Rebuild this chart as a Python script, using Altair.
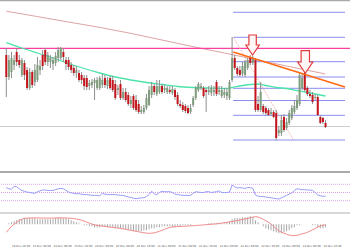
import altair as alt
import pandas as pd

# ---------------- candle data (levels read downward from the chart top) ----------------
OPEN = [55, 77, 72, 65, 52, 60, 75, 63, 70, 88,
        72, 82, 80, 70, 55, 50, 62, 62, 64, 63,
        58, 58, 52, 60, 60, 65, 68, 73, 73, 75,
        78, 78, 86, 85, 83, 88, 88, 85, 78, 86,
        78, 80, 84, 90, 84, 98, 92, 95, 104, 96,
        100, 104, 112, 112, 108, 105, 95, 86, 94, 92,
        86, 90, 92, 90, 93, 90, 95, 104, 105, 106,
        108, 112, 105, 98, 90, 88, 88, 90, 92, 93,
        92, 82, 92, 96, 95, 96, 98, 80, 58, 68,
        70, 74, 75, 68, 58, 63, 60, 104, 110, 106,
        108, 110, 114, 112, 113, 133, 133, 117, 128, 123,
        118, 112, 108, 104, 88, 73, 88, 94, 95, 98,
        97, 117, 118, 123]
CLOSE = [77, 60, 58, 60, 62, 65, 60, 75, 88, 72,
         85, 70, 65, 66, 66, 62, 55, 58, 60, 56,
         50, 48, 57, 64, 67, 70, 73, 70, 80, 80,
         86, 87, 83, 82, 80, 80, 78, 80, 85, 80,
         88, 90, 98, 88, 98, 92, 100, 104, 100, 108,
         110, 112, 110, 108, 98, 90, 86, 92, 86, 86,
         92, 88, 88, 92, 89, 97, 104, 106, 110, 111,
         113, 108, 98, 88, 84, 86, 96, 92, 90, 88,
         90, 94, 90, 90, 92, 92, 82, 58, 68, 74,
         75, 66, 62, 60, 63, 58, 110, 110, 92, 112,
         113, 115, 112, 117, 138, 130, 120, 130, 122, 113,
         108, 106, 100, 75, 78, 90, 94, 96, 102, 97,
         115, 123, 122, 127]
HIGH = [48, 55, 52, 55, 48, 55, 58, 60, 67, 68,
        70, 64, 57, 60, 50, 48, 52, 55, 57, 52,
        47, 47, 48, 57, 57, 62, 65, 66, 70, 72,
        75, 75, 80, 79, 78, 77, 76, 74, 75, 77,
        76, 76, 80, 85, 80, 88, 88, 92, 96, 94,
        95, 100, 106, 105, 94, 86, 82, 84, 80, 80,
        84, 85, 86, 86, 86, 88, 92, 100, 102, 104,
        105, 104, 96, 86, 82, 83, 86, 88, 86, 85,
        86, 80, 86, 86, 88, 88, 80, 37, 55, 66,
        66, 62, 60, 58, 55, 56, 58, 96, 82, 104,
        106, 108, 108, 110, 110, 126, 115, 114, 118, 110,
        105, 100, 95, 72, 74, 72, 86, 90, 92, 94,
        95, 115, 117, 120]
LOW = [97, 80, 78, 70, 66, 68, 77, 80, 90, 90,
       88, 86, 82, 75, 70, 65, 66, 68, 70, 66,
       62, 60, 62, 70, 70, 73, 76, 78, 82, 84,
       90, 90, 90, 88, 100, 90, 90, 88, 88, 89,
       90, 92, 100, 95, 100, 100, 102, 106, 108, 110,
       112, 114, 114, 114, 110, 106, 98, 95, 96, 94,
       94, 93, 94, 94, 95, 100, 106, 108, 112, 113,
       114, 114, 107, 100, 92, 90, 98, 112, 95, 96,
       96, 96, 95, 98, 98, 100, 100, 82, 70, 76,
       77, 76, 77, 70, 65, 65, 112, 112, 112, 114,
       115, 116, 116, 118, 140, 136, 136, 132, 130, 125,
       120, 114, 110, 106, 90, 92, 96, 98, 104, 100,
       116, 124, 124, 128]

# moving averages (sampled at candle indices)
MA_SLOW_IDX = [0, 12, 24, 36, 48, 60, 72, 84, 96, 108, 123]
MA_SLOW = [11.2, 16.6, 22, 27.4, 33.4, 40, 46.7, 53, 59.5, 66, 74]
MA_FAST_IDX = [0, 6, 12, 18, 24, 30, 36, 42, 48, 54, 60, 66, 72, 78, 84, 87,
               90, 94, 97, 100, 104, 108, 112, 116, 120, 123]
MA_FAST = [42.5, 48, 53, 58, 63.5, 68.5, 73, 77, 80, 82.5, 84.5, 86.5, 87.5, 88,
           88.5, 87.5, 86, 84.5, 84, 85.5, 87.5, 88.5, 90.5, 92.5, 94.5, 96]

# horizontal levels
RESIST_LEVEL = 48.3
CURRENT_LEVEL = 126.5
FIB_LEVELS = [12.3, 37.3, 61.7, 77, 88.3, 100.5, 115.3, 140]
FIB_X0 = 87.4
FIB_X1 = 130.5

# trend lines
TREND_IDX = [87.4, 130.5]
TREND_LVL = [52, 87]
FIBDIAG_IDX = [87.4, 110.6]
FIBDIAG_LVL = [37, 140]

# arrows
ARROW_IDX = [94.9, 115.2]
ARROW_LVL = [45, 62]

# RSI
RSI = [62, 59, 58, 65, 64, 59, 55, 53, 51, 50,
       49, 48, 52, 54, 56, 56, 55, 55, 55, 57,
       59, 60, 59, 55, 51, 49, 48, 47, 47, 46,
       45, 45, 44, 43, 43, 43, 42, 48, 46, 45,
       45, 45, 45, 44, 43, 43, 41, 39, 38, 36,
       35, 36, 37, 37, 40, 45, 53, 47, 45, 50,
       53, 52, 52, 52, 50, 46, 45, 44, 43, 43,
       43, 43, 48, 52, 51, 50, 50, 52, 52, 50,
       51, 52, 54, 50, 50, 50, 51, 68, 64, 61,
       62, 61, 60, 62, 62, 60, 44, 41, 40, 40,
       39, 38, 37, 36, 35, 34, 37, 40, 43, 46,
       49, 55, 59, 58, 57, 57, 56, 56, 55, 50,
       44, 42, 41, 41]
RSI_LEVELS = [70, 50, 30]

# MACD
MACD_HIST = [0, 1, 2, 3, 4, 5, 5, 6, 6, 6,
             6, 6, 5, 5, 5, 5, 5, 5, 5, 6,
             7, 7, 6, 6, 5, 4, 3, 2, 1, 0,
             -1, -1, -2, -2, -3, -3, -3, -2, -2, -3,
             -3, -3, -4, -4, -4, -5, -5, -6, -6, -7,
             -7, -7, -7, -6, -6, -5, -4, -4, -3, -3,
             -2, -2, -2, -2, -3, -3, -2, -2, -1, -1,
             -1, -1, 0, 0, 0, 0, 0, 0, 1, 1,
             1, 1, 1, 1, 1, 2, 3, 5, 6, 6,
             6, 7, 7, 7, 8, 7, 4, 2, 0, -2,
             -4, -5, -6, -7, -8, -9, -9, -8, -7, -6,
             -4, -3, -1, -1, 0, 0, 0, 0, -1, -1,
             -3, -4, -4, -3]
MACD_SIGNAL = [-8, -5, -2, 0, 2, 4, 5, 6, 6.2, 6.3,
               6.4, 6.4, 6.4, 6.3, 6.3, 6.2, 6.2, 6.2, 6.2, 6.3,
               6.4, 6.4, 6.4, 6.3, 6.2, 6.0, 5.7, 5.3, 4.8, 4.0,
               3.2, 2.2, 1.2, 0.2, -0.5, -1.0, -1.4, -1.8, -2.1, -2.5,
               -2.8, -3.1, -3.4, -3.7, -4.1, -4.5, -5.0, -5.5, -6.0, -6.5,
               -7.0, -7.5, -8.0, -8.5, -8.8, -9.0, -8.9, -8.5, -7.8, -7.0,
               -6.0, -5.0, -4.0, -3.2, -2.6, -2.4, -2.3, -2.2, -2.0, -1.9,
               -1.7, -1.5, -1.4, -1.2, -1.0, -0.8, -0.6, -0.4, -0.2, 0,
               0.2, 0.5, 0.8, 1.2, 1.6, 2.0, 2.4, 2.8, 3.3, 3.8,
               4.3, 4.8, 5.4, 6.0, 6.6, 7.2, 7.6, 7.3, 6.3, 5.0,
               3.6, 2.2, 0.3, -2.0, -4.5, -6.5, -7.8, -9.0, -10.0, -10.8,
               -11.3, -11.4, -11.0, -10.3, -9.6, -9.0, -8.0, -6.8, -5.5, -4.2,
               -2.8, -1.8, -1.0, -0.6]

# time axis labels
LABEL_POS = [5.5, 13.5, 21.5, 29.5, 37.5, 45.5, 53.5, 61.5,
             69.5, 77.5, 85.5, 93.5, 101.5, 109.5, 117.5, 125.5]
LABELS = ["18 Dec 16:00", "19 Dec 00:00", "19 Dec 08:00", "19 Dec 16:00",
          "20 Dec 00:00", "20 Dec 08:00", "20 Dec 16:00", "21 Dec 00:00",
          "21 Dec 08:00", "21 Dec 16:00", "22 Dec 00:00", "22 Dec 08:00",
          "22 Dec 16:00", "23 Dec 00:00", "23 Dec 08:00", "23 Dec 16:00"]

# panel domains
MAIN_DOMAIN = [0, 172]
RSI_DOMAIN = [0, 100]
MACD_DOMAIN = [-17.7, 11.3]

# ---------------- layout (pixel bands of the three panes) ----------------
W, H = 350, 250
MAIN_RANGE = [0, 172]      # price pane
RSI_RANGE = [213, 172]     # RSI pane
MACD_RANGE = [242, 213]    # MACD pane

N = len(OPEN)
IDX = list(range(N))
candles = pd.DataFrame({"i": IDX, "open": OPEN, "close": CLOSE, "high": HIGH, "low": LOW})
candles["dir"] = ["up" if c < o else "down" for o, c in zip(OPEN, CLOSE)]

xs = alt.Scale(domain=[-0.5, 130.5], nice=False, zero=False)
ys = alt.Scale(domain=MAIN_DOMAIN, range=MAIN_RANGE, nice=False, zero=False)
rs = alt.Scale(domain=RSI_DOMAIN, range=RSI_RANGE, nice=False, zero=False)
ms = alt.Scale(domain=MACD_DOMAIN, range=MACD_RANGE, nice=False, zero=False)


def X(f):
    # x axis properties come from the MACD histogram layer (shared axis)
    return alt.X(f, scale=xs)


def hline(level, scale, color, width, dash=None):
    kw = dict(color=color, strokeWidth=width)
    if dash:
        kw["strokeDash"] = dash
    return alt.Chart(pd.DataFrame({"y": level if isinstance(level, list) else [level]})).mark_rule(**kw).encode(
        y=alt.Y("y:Q", scale=scale, axis=None))


# price pane
wicks = alt.Chart(candles).mark_rule(color="#8e8e8e", strokeWidth=1).encode(
    x=X("i:Q"), y=alt.Y("low:Q", scale=ys, axis=None), y2="high:Q")
bodies = alt.Chart(candles).mark_bar(size=2).encode(
    x=X("i:Q"),
    y=alt.Y("open:Q", scale=ys, axis=None),
    y2="close:Q",
    color=alt.Color("dir:N", scale=alt.Scale(domain=["up", "down"], range=["#7f9c7c", "#c3151c"]), legend=None),
)
cur_line = hline(CURRENT_LEVEL, ys, "#c9ced3", 1)
res_line = hline(RESIST_LEVEL, ys, "#ff3fa0", 1.3)

fib_df = pd.DataFrame({"y": FIB_LEVELS, "x0": [FIB_X0] * len(FIB_LEVELS), "x1": [FIB_X1] * len(FIB_LEVELS)})
fib = alt.Chart(fib_df).mark_rule(color="#8c8cf2", strokeWidth=1).encode(
    x=X("x0:Q"), x2="x1:Q", y=alt.Y("y:Q", scale=ys, axis=None))

ma_slow = alt.Chart(pd.DataFrame({"i": MA_SLOW_IDX, "v": MA_SLOW})).mark_line(
    color="#dca3a3", strokeWidth=1).encode(x=X("i:Q"), y=alt.Y("v:Q", scale=ys, axis=None))
ma_fast = alt.Chart(pd.DataFrame({"i": MA_FAST_IDX, "v": MA_FAST})).mark_line(
    color="#4ee3aa", strokeWidth=1.3, interpolate="monotone").encode(
    x=X("i:Q"), y=alt.Y("v:Q", scale=ys, axis=None))
fibdiag = alt.Chart(pd.DataFrame({"i": FIBDIAG_IDX, "v": FIBDIAG_LVL})).mark_line(
    color="#f2aaaa", strokeWidth=0.8, strokeDash=[2, 1]).encode(
    x=X("i:Q"), y=alt.Y("v:Q", scale=ys, axis=None))
trend = alt.Chart(pd.DataFrame({"i": TREND_IDX, "v": TREND_LVL})).mark_line(
    color="#ff6a13", strokeWidth=1.6).encode(x=X("i:Q"), y=alt.Y("v:Q", scale=ys, axis=None))

ARROW_PATH = "M-0.37,-1L0.37,-1L0.37,0L0.67,0L0,1L-0.67,0L-0.37,0Z"
arrows_df = pd.DataFrame({"i": ARROW_IDX, "v": ARROW_LVL})
arrow_marks = []
for k, sz in zip(range(len(ARROW_IDX)), [400, 510]):
    arrow_marks.append(
        alt.Chart(arrows_df.iloc[[k]]).mark_point(
            shape=ARROW_PATH, size=sz, filled=True, fill="#fff6f6", stroke="#e23b3b",
            strokeWidth=1.2, opacity=1, fillOpacity=1, strokeOpacity=1).encode(
            x=X("i:Q"), y=alt.Y("v:Q", scale=ys, axis=None))
    )
top_line = hline(MAIN_DOMAIN[0] + 0.6, ys, "#a9a9a9", 1.4)

# RSI pane
rsi_df = pd.DataFrame({"i": IDX, "rsi": RSI})
rsi_lv = hline(RSI_LEVELS, rs, "#d9a6ee", 1, dash=[1, 1])
rsi_line = alt.Chart(rsi_df).mark_line(color="#9c9cf7", strokeWidth=1).encode(
    x=X("i:Q"), y=alt.Y("rsi:Q", scale=rs, axis=None))
rsi_sep = hline(RSI_DOMAIN[1], rs, "#a9a9a9", 1.8)

# MACD pane
macd_df = pd.DataFrame({"i": IDX, "h": MACD_HIST, "s": MACD_SIGNAL})
label_expr = ("[" + ",".join("'%s'" % l for l in LABELS) + "][indexof(["
              + ",".join(str(p) for p in LABEL_POS) + "], datum.value)]")
bottom_axis = alt.Axis(orient="bottom", values=LABEL_POS, tickCount=len(LABEL_POS) + 4,
                       labelExpr=label_expr, offset=-6.5,
                       labelFontSize=2.7, labelColor="#555555", labelFont="DejaVu Sans",
                       labelPadding=0.5, ticks=False, domain=False, grid=False,
                       labelOverlap=False, labelFlush=False, labelBound=False, title=None)
hist = alt.Chart(macd_df).mark_bar(size=1, color="#a8a8a8").encode(
    x=alt.X("i:Q", scale=xs, axis=bottom_axis),
    y=alt.Y("h:Q", scale=ms, axis=None),
    y2=alt.datum(0),
)
sig = alt.Chart(macd_df).mark_line(color="#f28b8b", strokeWidth=1).encode(
    x=X("i:Q"), y=alt.Y("s:Q", scale=ms, axis=None))
macd_sep = hline(MACD_DOMAIN[1], ms, "#b0b0b0", 1.2)

chart = alt.layer(
    hist, cur_line, fib, ma_slow, res_line, ma_fast, fibdiag, wicks, bodies, trend,
    *arrow_marks, top_line,
    rsi_lv, rsi_line, rsi_sep,
    sig, macd_sep,
).resolve_scale(y="independent").properties(
    width=W, height=H, padding=0, background="white",
    autosize=alt.AutoSizeParams(type="none"),
).configure_view(stroke=None).configure_axis(
    labelOverlap=False, labelSeparation=0, labelFlush=False
)

chart.save("out.html", embed_options={"renderer": "svg", "actions": False})
